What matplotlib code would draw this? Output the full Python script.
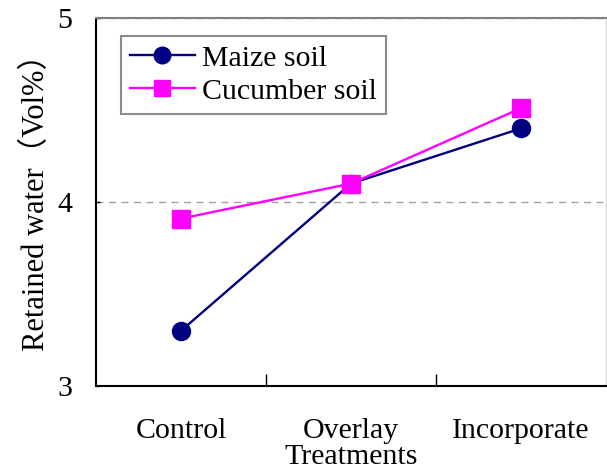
import numpy as np
import matplotlib
matplotlib.use('Agg')
from matplotlib import pyplot as plt

categories = ['Control', 'Overlay', 'Incorporate']
maize = [3.30, 4.10, 4.40]
cucumber = [3.91, 4.10, 4.51]
yticks = [3, 4, 5]

plt.rcParams['font.family'] = ['Liberation Serif', 'Noto Sans CJK SC']

fig = plt.figure(figsize=(6.07, 4.73), dpi=100)
ax = fig.add_axes([96/607, 1-386/473, 510/607, 368/473])

x = np.arange(len(categories))
ax.plot(x, maize, color='#000080', lw=1.7, marker='o', ms=13, label='Maize soil')
ax.plot(x, cucumber, color='#FF00FF', lw=1.7, marker='s', ms=12.5, label='Cucumber soil')

ax.set_xlim(-0.5, 2.5)
ax.set_ylim(3, 5)
ax.set_yticks(yticks)
ax.set_yticklabels([str(v) for v in yticks], fontsize=21.5)
ax.tick_params(axis='y', direction='in', length=3, width=1, pad=17)
ax.yaxis.grid(True, color='#a0a0a0', ls=(0, (5, 4)), lw=1)

# category labels at the points, separators between categories
ax.set_xticks(x)
ax.set_xticklabels(categories, fontsize=21.5)
ax.set_xticks(x[:-1] + 0.5, minor=True)
ax.tick_params(axis='x', which='major', length=0, pad=23)
ax.tick_params(axis='x', which='minor', direction='in', length=9, width=1)
ax.set_xlabel('Treatments', fontsize=21.5)
ax.xaxis.set_label_coords(0.5, -0.158)

ax.spines['left'].set_linewidth(1.5)
ax.spines['bottom'].set_linewidth(1.5)
ax.spines['top'].set_color('#808080')
ax.spines['top'].set_linewidth(1.5)
ax.spines['right'].set_color('#d8d8d8')
ax.spines['right'].set_linewidth(1)

ax.set_ylabel('Retained water（Vol%）', fontsize=22)
ax.yaxis.set_label_coords(-0.088, 0.52)

leg = ax.legend(loc='upper left', bbox_to_anchor=(121/607, 1-36/473),
                bbox_transform=fig.transFigure, fontsize=21.5, frameon=True,
                fancybox=False, edgecolor='#707070', handlelength=2.17,
                handletextpad=0.25, borderpad=0.3, labelspacing=0.2,
                borderaxespad=0, markerscale=0.92)
leg.get_frame().set_linewidth(1.5)

fig.savefig('out.png', dpi=100)
